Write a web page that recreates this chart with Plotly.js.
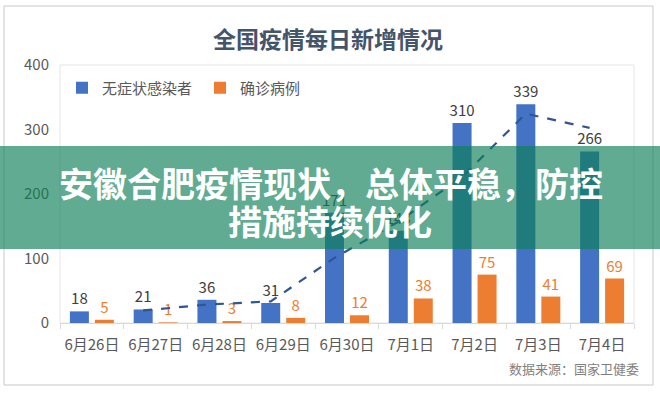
<!DOCTYPE html>
<html>
<head>
<meta charset="utf-8">
<script src="https://cdn.plot.ly/plotly-3.0.1.min.js"></script>
<style>
html,body{margin:0;padding:0;background:#fff;}
#chart{width:660px;height:396px;}
</style>
</head>
<body>
<div id="chart"></div>
<script>
var categories = ["6月26日","6月27日","6月28日","6月29日","6月30日","7月1日","7月2日","7月3日","7月4日"];
var asymptomatic = [18, 21, 36, 31, 171, 143, 310, 339, 266];
var confirmed = [5, 1, 3, 8, 12, 38, 75, 41, 69];
var trend = [null, 19.5, 28.5, 33.5, 101, 157, 226.5, 324.5, 302.5];
var seriesNames = ["无症状感染者", "确诊病例"];
var chartTitle = "全国疫情每日新增情况";
var sourceText = "数据来源：国家卫健委";
var bannerLines = ["安徽合肥疫情现状，总体平稳，防控", "措施持续优化"];

var FONT = "'Noto Sans CJK SC', 'Noto Sans', sans-serif";

// pixel -> paper helpers (plot area: x 60..634, y 65..323)
var L = 60, R = 634, T = 65, B = 323;
function px(X){ return (X - L) / (R - L); }
function py(Y){ return (B - Y) / (B - T); }

var traces = [
  {
    type: 'bar', name: seriesNames[0], x: categories, y: asymptomatic,
    marker: {color: '#4472c4'},
    text: asymptomatic.map(String), textposition: 'outside', constraintext: 'none',
    textfont: {family: FONT, size: 15, color: '#404040'},
    cliponaxis: false, hoverinfo: 'skip'
  },
  {
    type: 'bar', name: seriesNames[1], x: categories, y: confirmed,
    marker: {color: '#ed7d31'},
    text: confirmed.map(String), textposition: 'outside', constraintext: 'none',
    textfont: {family: FONT, size: 15, color: '#ed7d31'},
    cliponaxis: false, hoverinfo: 'skip'
  },
  {
    type: 'scatter', mode: 'lines', x: categories, y: trend, xaxis: 'x2',
    line: {color: '#2f5597', width: 2.2, dash: 'dash'},
    showlegend: false, hoverinfo: 'skip', connectgaps: false
  }
];

var shift = 0.196;
var layout = {
  width: 660, height: 396,
  margin: {l: L, r: 660 - R, t: T, b: 396 - B},
  paper_bgcolor: '#ffffff', plot_bgcolor: '#ffffff',
  font: {family: FONT, color: '#595959'},
  barmode: 'group', bargap: 0.216, bargroupgap: 0.24,
  uniformtext: {mode: false},
  showlegend: true,
  legend: {
    orientation: 'h', x: px(62), y: py(88), xanchor: 'left', yanchor: 'middle',
    font: {family: FONT, size: 15, color: '#595959'},
    bgcolor: 'rgba(0,0,0,0)', entrywidth: 93, itemwidth: 30
  },
  title: {
    text: '<b>' + chartTitle + '</b>',
    font: {family: FONT, size: 23, color: '#44546a'},
    x: 328/660, xref: 'container', xanchor: 'center', y: 1 - 40/396, yanchor: 'middle'
  },
  xaxis: {
    type: 'category', tickson: 'boundaries', ticks: 'outside', ticklen: 5,
    tickcolor: '#d9d9d9', showline: true, linecolor: '#d9d9d9', linewidth: 1,
    showgrid: false, zeroline: false, ticklabelstandoff: 8, tickangle: 0,
    tickfont: {family: FONT, size: 15, color: '#595959'},
    range: [-0.5, 8.5]
  },
  xaxis2: {
    type: 'category', overlaying: 'x', visible: false,
    categoryorder: 'array', categoryarray: categories,
    range: [-0.5 + shift, 8.5 + shift]
  },
  yaxis: {
    range: [0, 400], dtick: 100, showgrid: false, zeroline: false, showline: false,
    tickfont: {family: FONT, size: 15, color: '#595959'}, ticklabelstandoff: 10
  },
  shapes: [
    {type: 'rect', xref: 'paper', yref: 'paper', x0: 0, x1: 1, y0: 0, y1: 1,
     line: {color: '#e6e6e6', width: 1}, fillcolor: 'rgba(0,0,0,0)', layer: 'below'},
    {type: 'rect', xref: 'paper', yref: 'paper', x0: px(4), x1: px(653), y0: py(385), y1: py(6),
     line: {color: '#c8c8c8', width: 1}, fillcolor: 'rgba(0,0,0,0)', layer: 'below'},
    {type: 'rect', xref: 'paper', yref: 'paper', x0: px(-2), x1: px(662), y0: py(249), y1: py(146),
     line: {width: 0}, fillcolor: 'rgba(14,128,88,0.66)', layer: 'above'}
  ],
  annotations: [
    {text: sourceText, xref: 'paper', yref: 'paper', x: px(641), y: py(368),
     xanchor: 'right', yanchor: 'middle', showarrow: false,
     font: {family: FONT, size: 13, color: '#7f7f7f'}},
    {text: '<b>' + bannerLines[0] + '</b>', xref: 'paper', yref: 'paper', x: px(331), y: py(182),
     xanchor: 'center', yanchor: 'middle', showarrow: false,
     font: {family: FONT, size: 34, color: '#ffffff'}},
    {text: '<b>' + bannerLines[1] + '</b>', xref: 'paper', yref: 'paper', x: px(330), y: py(220),
     xanchor: 'center', yanchor: 'middle', showarrow: false,
     font: {family: FONT, size: 34, color: '#ffffff'}}
  ]
};

Plotly.newPlot('chart', traces, layout, {displayModeBar: false, staticPlot: true});
</script>
</body>
</html>
